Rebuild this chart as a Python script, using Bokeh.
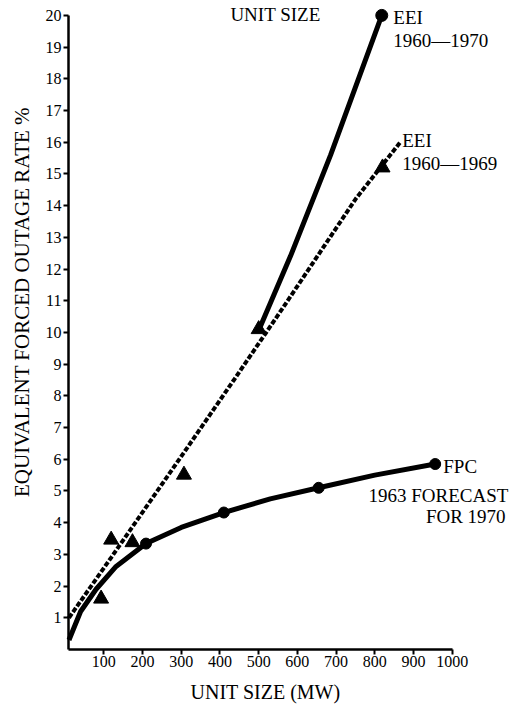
import math
from bokeh.plotting import figure
from bokeh.models import Range1d, FixedTicker, Label
from bokeh.embed import file_html
from bokeh.resources import INLINE

# ---- data ----
fpc_x = [10, 40, 80, 130, 209, 300, 410, 530, 655, 800, 956]
fpc_y = [0.3, 1.2, 1.9, 2.6, 3.34, 3.85, 4.32, 4.75, 5.1, 5.5, 5.85]
fpc_pts_x = [209, 410, 655, 956]
fpc_pts_y = [3.34, 4.32, 5.1, 5.85]

eei70_x = [500, 582, 686, 818]
eei70_y = [10.06, 12.4, 15.6, 20.0]
eei70_pts_x = [818]
eei70_pts_y = [20.0]

eei69_x = [10, 119, 317, 436, 564, 750, 866]
eei69_y = [1.0, 2.9, 6.39, 8.5, 10.8, 14.2, 16.0]

tri_x = [93, 119, 174, 307, 500, 820]
tri_y = [1.6, 3.46, 3.38, 5.51, 10.1, 15.2]

x_ticks = [100, 200, 300, 400, 500, 600, 700, 800, 900, 1000]
y_ticks = list(range(1, 21))

title_text = "UNIT SIZE"
x_label = "UNIT SIZE (MW)"
y_label = "EQUIVALENT FORCED OUTAGE RATE %"
eei70_label = ["EEI", "1960\u20141970"]
eei69_label = ["EEI", "1960\u20141969"]
fpc_label = ["FPC", "1963 FORECAST", "FOR 1970"]

FONT = "Liberation Serif"

p = figure(width=516, height=704,
           x_range=Range1d(-166.9, 1166.1), y_range=Range1d(-1.735, 20.47),
           output_backend="svg", toolbar_location=None, min_border=0)
p.outline_line_color = None
p.xgrid.grid_line_color = None
p.ygrid.grid_line_color = None
p.background_fill_color = "white"
p.border_fill_color = "white"

for ax in (p.xaxis[0], p.yaxis[0]):
    ax.axis_line_width = 2.5
    ax.axis_line_color = "black"
    ax.major_tick_line_width = 2
    ax.major_tick_in = 0
    ax.major_tick_out = 5
    ax.minor_tick_line_color = None
    ax.major_label_text_font = FONT
    ax.major_label_text_font_size = "16px"
    ax.major_label_text_color = "black"
    ax.major_label_standoff = 2

p.xaxis.ticker = FixedTicker(ticks=x_ticks)
p.yaxis.ticker = FixedTicker(ticks=y_ticks)
p.xaxis.bounds = (8.8, 1000)
p.yaxis.bounds = (0, 20)
p.xaxis.fixed_location = 0
p.yaxis.fixed_location = 8.8

# curves
p.line(fpc_x, fpc_y, line_color="black", line_width=5)
p.scatter(fpc_pts_x, fpc_pts_y, marker="circle", size=11, color="black")

p.line(eei69_x, eei69_y, line_color="black", line_width=4, line_dash="5 2")

p.line(eei70_x, eei70_y, line_color="black", line_width=5)
p.scatter(eei70_pts_x, eei70_pts_y, marker="circle", size=12, color="black")

p.scatter(tri_x, tri_y, marker="triangle", size=15, color="black")

def lab(x, y, t, size="19px", align="left", angle=0.0, baseline="middle"):
    p.add_layout(Label(x=x, y=y, text=t, text_font=FONT, text_font_size=size,
                       text_align=align, text_baseline=baseline,
                       text_color="black", angle=angle))

lab(848, 19.94, eei70_label[0])
lab(848, 19.21, eei70_label[1])
lab(871, 16.06, eei69_label[0])
lab(871, 15.33, eei69_label[1])
lab(977, 5.77, fpc_label[0])
lab(1145, 4.86, fpc_label[1], align="right")
lab(1138, 4.2, fpc_label[2], align="right")

lab(543.5, 20.03, title_text, align="center", baseline="alphabetic")
lab(517.7, -1.34, x_label, size="20px", align="center")
lab(-112.6, 10.96, y_label, size="21px", align="center", angle=math.pi / 2)

open("out.html", "w").write(file_html(p, INLINE))
